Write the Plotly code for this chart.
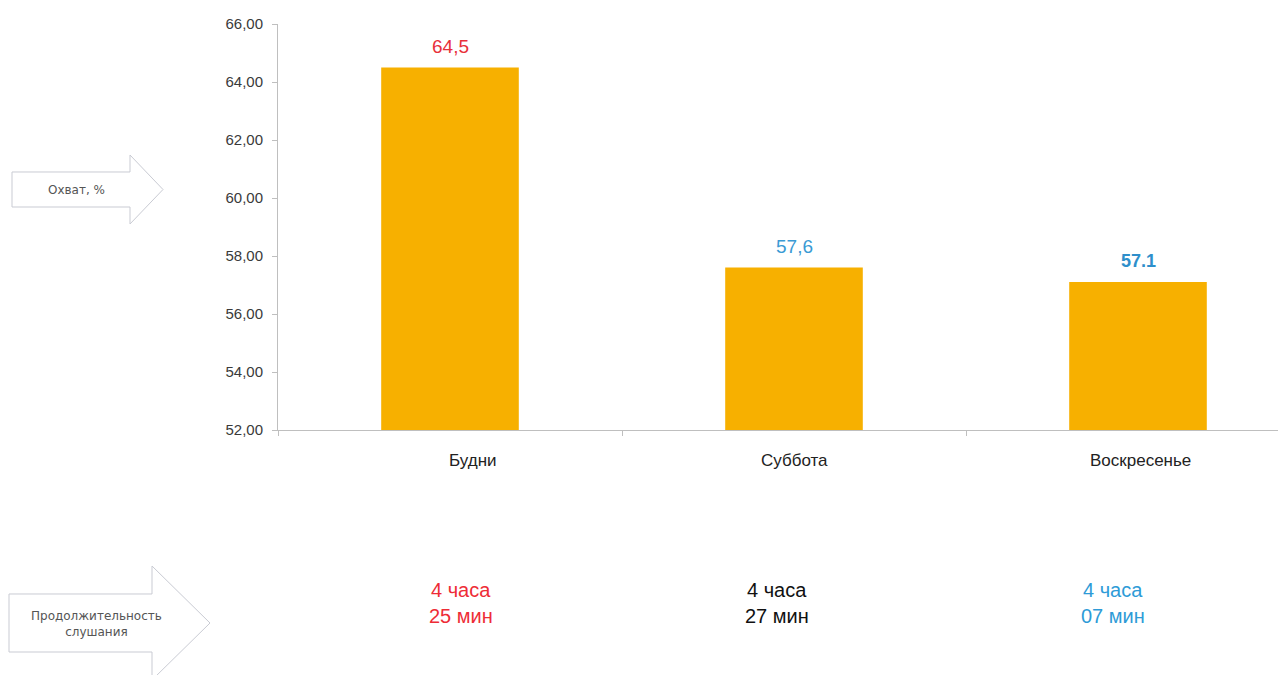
import plotly.graph_objects as go

# Reach by day type, %
days = ["Будни", "Суббота", "Воскресенье"]
reach = [64.5, 57.6, 57.1]
label_decimal = [",", ",", "."]
label_colors = ["#E8303A", "#3A9AD4", "#2E8FCB"]
label_bold = [False, False, True]
day_xshift = [23, 0, 2]

# Average listening duration
dur_hours = ["4 часа", "4 часа", "4 часа"]
dur_minutes = ["25 мин", "27 мин", "07 мин"]
dur_colors = ["#EE2C36", "#111111", "#2E9BD7"]
dur_xshift = [11, -17, -25]

y_ticks = [52, 54, 56, 58, 60, 62, 64, 66]

FONT = "Liberation Sans, Arial, sans-serif"
WIDE = "DejaVu Sans, Verdana, sans-serif"

# Plot area in pixels
L, T, W, H = 278, 24, 1000, 406
FIG_W, FIG_H = 1278, 675


def px(x):
    return (x - L) / W


def py(y):
    return (T + H - y) / H


fig = go.Figure()
fig.add_trace(go.Bar(
    x=days, y=reach, width=0.4,
    marker=dict(color="#F7B000", line=dict(width=0)),
    hoverinfo="skip",
))

# Value labels above bars
for d, v, sep, c, b in zip(days, reach, label_decimal, label_colors, label_bold):
    txt = f"{v:.1f}".replace(".", sep)
    if b:
        txt = f"<b>{txt}</b>"
    fig.add_annotation(x=d, y=v, text=txt, showarrow=False,
                       yanchor="bottom", yshift=9,
                       font=dict(family=FONT, size=18 if b else 19, color=c))

# Category names under the axis
for d, dx in zip(days, day_xshift):
    fig.add_annotation(x=d, xshift=dx, yref="paper", y=py(460), text=d,
                       showarrow=False, yanchor="middle", xanchor="center",
                       font=dict(family=FONT, size=17, color="#222222"))

# Duration labels below the chart
for d, h, m, c, dx in zip(days, dur_hours, dur_minutes, dur_colors, dur_xshift):
    fig.add_annotation(x=d, xshift=dx, yref="paper", y=py(590), text=h,
                       showarrow=False, yanchor="middle", xanchor="center",
                       font=dict(family=FONT, size=20, color=c))
    fig.add_annotation(x=d, xshift=dx, yref="paper", y=py(616), text=m,
                       showarrow=False, yanchor="middle", xanchor="center",
                       font=dict(family=FONT, size=20, color=c))


def arrow_path(x0, y_top, y_bot, x_base, y_head_top, y_head_bot, x_tip):
    ym = (y_top + y_bot) / 2
    pts = [(x0, y_top), (x_base, y_top), (x_base, y_head_top), (x_tip, ym),
           (x_base, y_head_bot), (x_base, y_bot), (x0, y_bot)]
    return "M " + " L ".join(f"{px(a):.5f},{py(b):.5f}" for a, b in pts) + " Z"


arrow_style = dict(type="path", xref="paper", yref="paper",
                   line=dict(color="#C9CBD3", width=1), fillcolor="white",
                   layer="below")
fig.add_shape(path=arrow_path(12, 172, 207, 130, 155, 224, 163), **arrow_style)
fig.add_shape(path=arrow_path(9, 594, 652, 152, 566, 680, 210), **arrow_style)

fig.add_annotation(xref="paper", yref="paper", x=px(76), y=py(190),
                   xanchor="center", yanchor="middle",
                   text="Охват, %", showarrow=False,
                   font=dict(family=WIDE, size=12, color="#555555"))
fig.add_annotation(xref="paper", yref="paper", x=px(96), y=py(624),
                   xanchor="center", yanchor="middle",
                   text="Продолжительность<br>слушания", showarrow=False,
                   font=dict(family=WIDE, size=12, color="#555555"))

fig.update_layout(
    width=FIG_W, height=FIG_H,
    margin=dict(l=L, r=FIG_W - L - W, t=T, b=FIG_H - T - H, pad=0),
    paper_bgcolor="white", plot_bgcolor="white",
    showlegend=False, separators=", ",
    font=dict(family=FONT, size=13, color="#333333"),
)
fig.update_xaxes(
    range=[-0.5, W / 344 - 0.5],
    showline=True, linecolor="#BFBFBF", linewidth=1,
    ticks="outside", tickson="boundaries", ticklen=5, tickcolor="#BFBFBF",
    showticklabels=False,
    showgrid=False, zeroline=False,
)
fig.update_yaxes(
    range=[52, 66], tickvals=y_ticks, tickformat=".2f",
    showline=True, linecolor="#BFBFBF", linewidth=1,
    ticks="outside", ticklen=5, tickcolor="#BFBFBF",
    ticklabelstandoff=6,
    tickfont=dict(family=FONT, size=15, color="#3A3A3A"),
    showgrid=False, zeroline=False,
)

fig.write_html("out.html")
